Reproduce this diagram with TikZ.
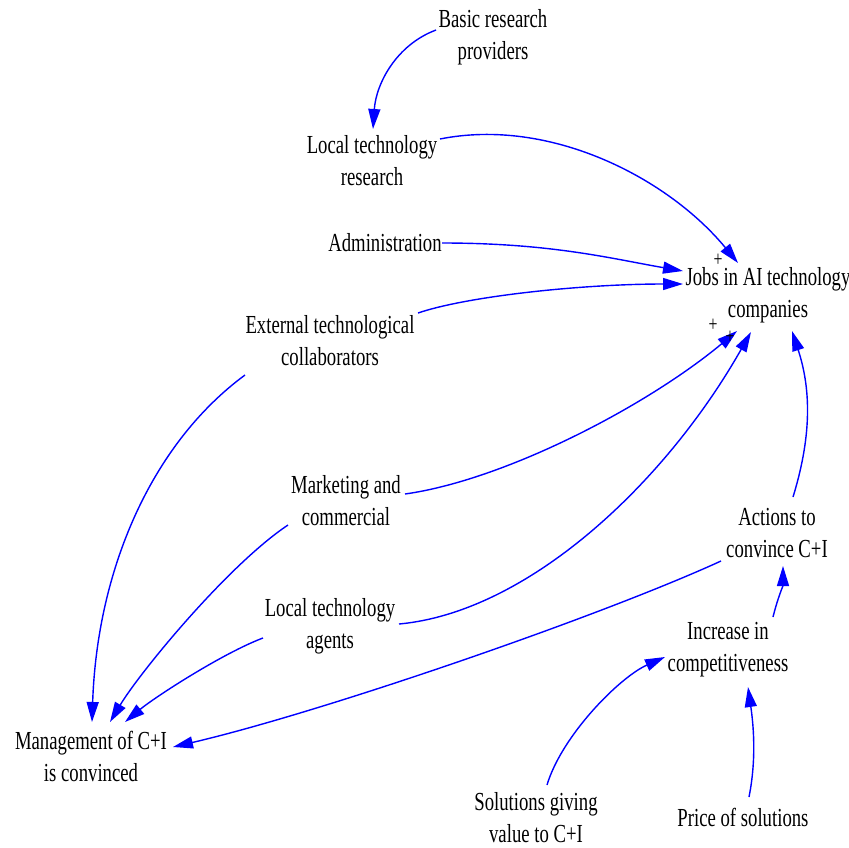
\documentclass[tikz,border=0pt]{standalone}
\usepackage{fontspec}
\setmainfont{Liberation Serif}[FakeStretch=0.72]
\usetikzlibrary{arrows.meta}
\newcommand\cldfont{\fontsize{26}{32}\selectfont}
\newcommand\polfont{\fontsize{22}{22}\selectfont}
\begin{document}
\begin{tikzpicture}[x=1pt,y=-1pt,
  var/.style={align=center,inner sep=0pt,font=\cldfont},
  link/.style={draw=blue,line width=1.4pt,-{Triangle[length=20pt,width=12pt]}},
  pol/.style={inner sep=0pt,font=\polfont}]
\useasboundingbox (0,0) rectangle (849,847);

% variables
\node[var] (brp)   at (493,37)  {Basic research\\providers};
\node[var] (ltr)   at (372,161) {Local technology\\research};
\node[var] (adm)   at (385,243) {Administration};
\node[var] (jobs)  at (768,295) {Jobs in AI technology\\companies};
\node[var] (ext)   at (330,341) {External technological\\collaborators};
\node[var] (mkt)   at (346,501) {Marketing and\\commercial};
\node[var] (lta)   at (330,626) {Local technology\\agents};
\node[var] (act)   at (777,533) {Actions to\\convince C+I};
\node[var] (inc)   at (728,650) {Increase in\\competitiveness};
\node[var] (mgmt)  at (91,756)  {Management of C+I\\is convinced};
\node[var] (sol)   at (536,818) {Solutions giving\\value to C+I};
\node[var] (price) at (743,817) {Price of solutions};

% causal links
\draw[link] ([shift={(-57,-7)}]brp.center) .. controls +(-40,15) and +(3,-45) .. ([shift={(1,-32)}]ltr.center);
\draw[link] ([shift={(68,-22)}]ltr.center) .. controls +(110,-22) and +(-70,-85) .. ([shift={(-30,-32)}]jobs.center);
\draw[link] ([shift={(57,0)}]adm.center) .. controls +(110,0) and +(-70,-12) .. ([shift={(-85,-24)}]jobs.center);
\draw[link] ([shift={(88,-28)}]ext.center) .. controls +(50,-17) and +(-100,0) .. ([shift={(-85,-11)}]jobs.center);
\draw[link] ([shift={(59,-7)}]mkt.center) .. controls +(100,-14) and +(-90,75) .. ([shift={(-31,36)}]jobs.center);
\draw[link] ([shift={(69,-2)}]lta.center) .. controls +(130,-12) and +(-85,150) .. ([shift={(-17,37)}]jobs.center);
\draw[link] ([shift={(16,-36)}]act.center) .. controls +(20,-65) and +(18,55) .. ([shift={(24,36)}]jobs.center);
\draw[link] ([shift={(45,-33)}]inc.center) .. controls +(5,-20) and +(0,20) .. ([shift={(6,33)}]act.center);
\draw[link] ([shift={(11,-33)}]sol.center) .. controls +(15,-50) and +(-45,20) .. ([shift={(-63,7)}]inc.center);
\draw[link] ([shift={(6,-20)}]price.center) .. controls +(8,-40) and +(5,35) .. ([shift={(20,37)}]inc.center);
\draw[link] ([shift={(-85,34)}]ext.center) .. controls +(-95,70) and +(5,-150) .. ([shift={(1,-34)}]mgmt.center);
\draw[link] ([shift={(-58,24)}]mkt.center) .. controls +(-60,40) and +(30,-50) .. ([shift={(19,-34)}]mgmt.center);
\draw[link] ([shift={(-67,12)}]lta.center) .. controls +(-40,15) and +(30,-25) .. ([shift={(34,-34)}]mgmt.center);
\draw[link] ([shift={(-56,28)}]act.center) .. controls +(-120,55) and +(150,-35) .. ([shift={(82,-9)}]mgmt.center);

% polarity signs
\node[pol] (p1) at ([shift={(-50,-35)}]jobs.center) {+};
\node[pol] (p2) at ([shift={(-55,30)}]jobs.center) {+};
\node[pol] (p3) at ([shift={(-38,42)}]jobs.center) {+};
\end{tikzpicture}
\end{document}
